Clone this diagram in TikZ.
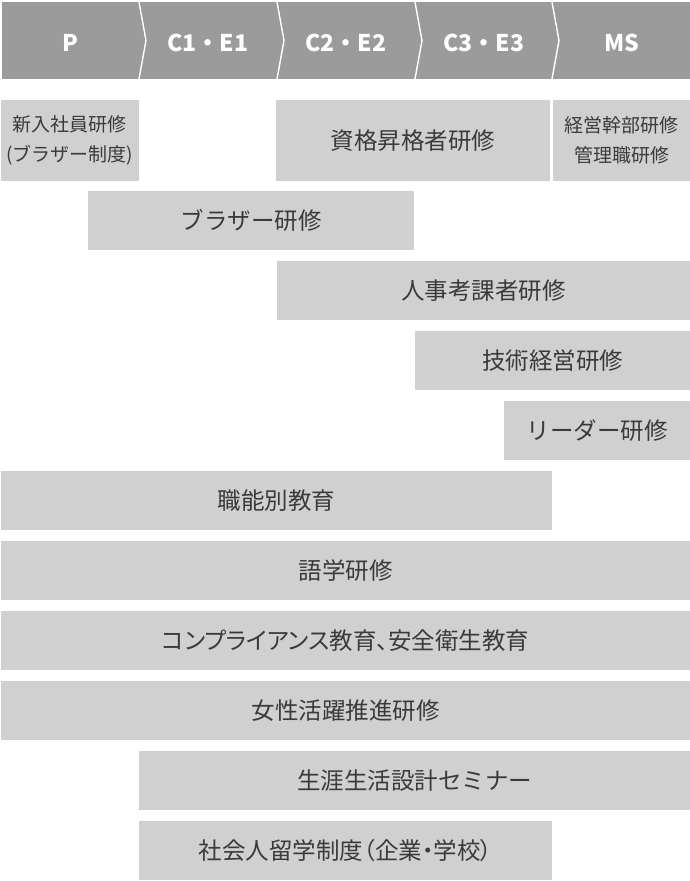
\documentclass[tikz,border=0pt]{standalone}
\usepackage{fontspec}
\setmainfont{Noto Sans CJK JP}
\usepackage{tikz}
\usetikzlibrary{positioning}
\definecolor{hdrgray}{RGB}{155,155,155}
\definecolor{bargray}{RGB}{208,208,208}
\definecolor{txtdark}{RGB}{58,58,58}
\tikzset{
  stage/.style={font=\fontsize{23}{26}\selectfont\bfseries, text=white, inner sep=0pt},
  bar/.style={rectangle, fill=bargray, anchor=north west, inner sep=0pt,
    align=center, text=txtdark, font=\fontsize{23.5}{27}\selectfont},
  smallbar/.style={bar, font=\fontsize{19}{30}\selectfont},
  narrowbar/.style={bar, font=\fontsize{23.5}{27}\selectfont\addfontfeatures{RawFeature=+palt}},
  sepline/.style={white, line width=1.4pt}
}

\begin{document}
\begin{tikzpicture}[x=1pt, y=-1pt]
  \useasboundingbox (0,0) rectangle (690,881);
  % ── stage header (chevrons) ─────────────────────────────────────────────
  \fill[hdrgray] (2,2) rectangle (690,79);
  \draw[sepline] (139,2) -- (146,40.5) -- (139,79);
  \draw[sepline] (277,2) -- (284,40.5) -- (277,79);
  \draw[sepline] (415,2) -- (422,40.5) -- (415,79);
  \draw[sepline] (552,2) -- (559,40.5) -- (552,79);
  \node[stage] (hp)  at (70.5,42.5)  {P};
  \node[stage] (hc1) at (208,42.5)   {C1・E1};
  \node[stage] (hc2) at (346,42.5)   {C2・E2};
  \node[stage] (hc3) at (484,42.5)   {C3・E3};
  \node[stage] (hms) at (621.5,42.5) {MS};

  % ── rank-based training ─────────────────────────────────────────────────
  \node[smallbar, minimum width=137.5pt, minimum height=81pt] (shinnyu) at (1,100)
    {新入社員研修\\(ブラザー制度)};
  \node[bar, minimum width=274pt, minimum height=81pt] (shikaku) at (276,100)
    {資格昇格者研修};
  \node[smallbar, minimum width=137pt, minimum height=81pt] (keiei) at (553,100)
    {経営幹部研修\\管理職研修};
  \node[bar, minimum width=326pt, minimum height=59pt] (brother) at (88,191) {ブラザー研修};
  \node[bar, minimum width=413pt, minimum height=59pt] (jinji) at (277,261) {人事考課者研修};
  \node[bar, minimum width=275pt, minimum height=59pt] (gijutsu) at (415,331) {技術経営研修};
  \node[bar, minimum width=186pt, minimum height=59pt] (leader) at (504,401) {リーダー研修};

  % ── cross-rank programs ─────────────────────────────────────────────────
  \node[bar, minimum width=551pt, minimum height=59pt] (shokuno) at (1,471) {職能別教育};
  \node[bar, minimum width=689pt, minimum height=59pt] (gogaku) at (1,541) {語学研修};
  \node[narrowbar, minimum width=689pt, minimum height=59pt] (comp) at (1,611)
    {コンプライアンス教育、安全衛生教育};
  \node[bar, minimum width=689pt, minimum height=59pt] (josei) at (1,681) {女性活躍推進研修};
  \node[bar, minimum width=551pt, minimum height=59pt] (shogai) at (139,751)
    {生涯生活設計セミナー};
  \node[narrowbar, minimum width=413pt, minimum height=59pt] (ryugaku) at (139,821)
    {社会人留学制度（企業・学校）};
\end{tikzpicture}
\end{document}
